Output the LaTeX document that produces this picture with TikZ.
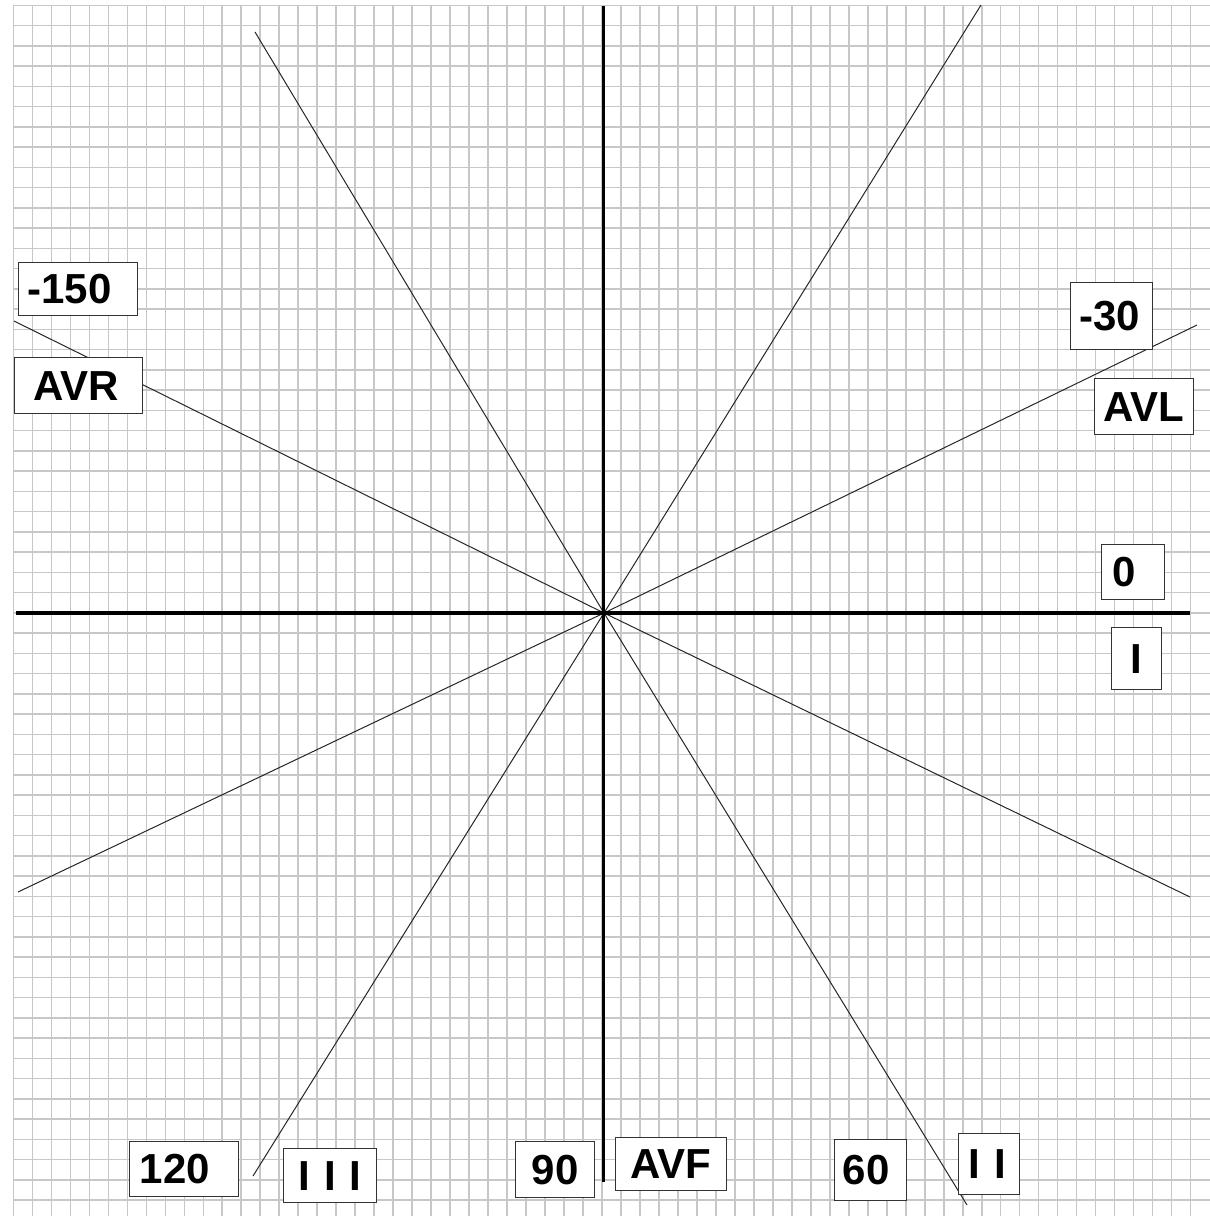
\documentclass[tikz,border=0pt]{standalone}
\usepackage{fontspec}
\setmainfont{Liberation Sans}

\begin{document}
\begin{tikzpicture}[
    x=1pt, y=-1pt,
    gridline/.style = {draw=black!22, line width=1.4pt},
    axis/.style     = {draw=black, line width=3.5pt},
    lead/.style     = {draw=black!85, line width=1pt},
    lbl/.style      = {draw=black!80, line width=1.3pt, fill=white, anchor=north west,
                       inner ysep=0pt, align=left,
                       font=\fontsize{42}{46}\selectfont\bfseries},
    mid/.style      = {lbl, inner xsep=0pt, align=center},
]

\useasboundingbox (0,0) rectangle (1210,1216);

%% ---- Paper grid ----

\foreach \k in {0,...,62}{ \draw[gridline] ({13.3+18.99*\k}, 5.3) -- ++(0, 1212); }
\foreach \k in {0,...,59}{ \draw[gridline] (13.3, {5.3+20.25*\k}) -- (1210, {5.3+20.25*\k}); }

%% ---- Centre and line ends ----

\coordinate (O)    at (604, 613);
\coordinate (xL)   at (16, 613);
\coordinate (xR)   at (1190, 613);
\coordinate (yT)   at (603.7, 6);
\coordinate (yB)   at (603.7, 1182);
\coordinate (iiT)  at (255, 32);
\coordinate (iiB)  at (967, 1205);
\coordinate (iiiT) at (981, 5);
\coordinate (iiiB) at (253, 1176);
\coordinate (avrL) at (14, 321);
\coordinate (avrR) at (1190, 897);
\coordinate (avlR) at (1197, 325);
\coordinate (avlL) at (18, 892);

%% ---- Leads through the centre ----

\foreach \e in {iiT, iiB, iiiT, iiiB, avrL, avrR, avlR, avlL}{
    \draw[lead] (O) -- (\e);
}

%% ---- Axes ----

\draw[axis] (xL) -- (xR);
\draw[axis] (yT) -- (yB);

%% ---- Labels ----

\node[lbl, inner xsep=9pt,  text width=101pt, minimum height=53pt] (m150) at (18, 262)   {-150};
\node[lbl, inner xsep=19pt, text width=90pt,  minimum height=56pt] (avr)  at (14, 357)   {AVR};
\node[lbl, inner xsep=9pt,  text width=64pt,  minimum height=67pt] (m30)  at (1070, 282) {-30};
\node[mid, text width=99pt,  minimum height=56pt]                  (avl)  at (1094, 378) {AVL};
\node[lbl, inner xsep=11pt, text width=41pt,  minimum height=55pt] (p0)   at (1101, 544) {0};
\node[mid, text width=50pt,  minimum height=62pt]                  (one)  at (1111, 627) {I};
\node[lbl, inner xsep=10pt, text width=89pt,  minimum height=55pt] (p120) at (129, 1141) {120};
\node[mid, text width=93pt,  minimum height=54pt]                  (three) at (283, 1148) {I I I};
\node[mid, text width=79pt,  minimum height=56pt]                  (p90)  at (515, 1141) {90};
\node[mid, text width=111pt, minimum height=53pt]                  (avf)  at (615, 1137) {AVF};
\node[lbl, inner xsep=8pt,  text width=56pt,  minimum height=61pt] (p60)  at (834, 1139) {60};
\node[lbl, inner xsep=10pt, text width=41pt,  minimum height=61pt] (two)  at (958, 1133) {I I};

\end{tikzpicture}
\end{document}
